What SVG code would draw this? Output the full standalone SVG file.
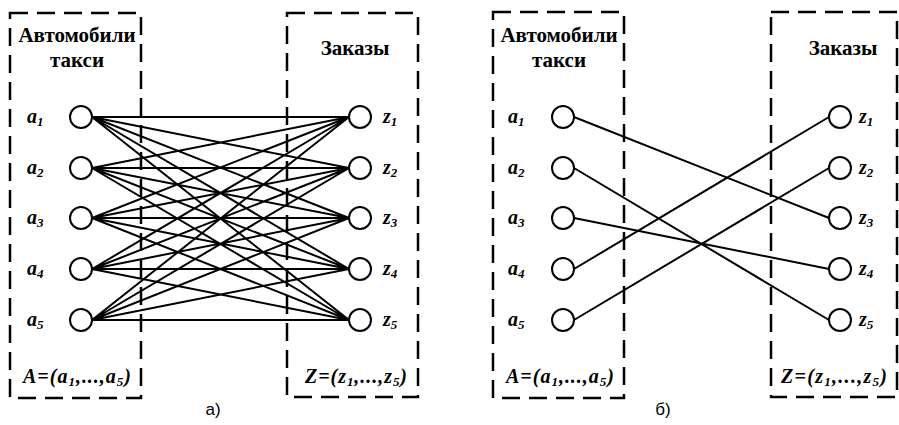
<svg xmlns="http://www.w3.org/2000/svg" width="899" height="425" viewBox="0 0 899 425">
<style>
.box{fill:none;stroke:#000;stroke-width:2.5;stroke-dasharray:18 9}
.nd{fill:#fff;stroke:#000;stroke-width:2}
.ln{stroke:#000;stroke-width:2;fill:none}
.t{font-family:'Liberation Serif','Times New Roman',serif;font-weight:bold;font-size:21px;fill:#000}
.lb{font-family:'Liberation Serif','Times New Roman',serif;font-weight:bold;font-style:italic;font-size:20px;fill:#000}
.sb{font-size:13px}
.cap{font-family:'Liberation Sans',Arial,sans-serif;font-size:17px;fill:#000}
</style>
<rect width="899" height="425" fill="#fff"/>
<g id="panel-a">
<g id="boxA1"><rect class="box" x="10" y="13" width="131" height="385"/>
<text class="t" x="77" y="42" text-anchor="middle">Автомобили</text>
<text class="t" x="77" y="67" text-anchor="middle">такси</text>
<text class="lb" x="23" y="383" textLength="108" lengthAdjust="spacing">A=(a<tspan class="sb" dy="3">1</tspan><tspan dy="-3">,...,a</tspan><tspan class="sb" dy="3">5</tspan><tspan dy="-3">)</tspan></text></g>
<g id="boxZ1"><rect class="box" x="287" y="13" width="131" height="384"/>
<text class="t" x="355" y="55" text-anchor="middle">Заказы</text>
<text class="lb" x="305" y="383" textLength="102" lengthAdjust="spacing">Z=(z<tspan class="sb" dy="3">1</tspan><tspan dy="-3">,...,z</tspan><tspan class="sb" dy="3">5</tspan><tspan dy="-3">)</tspan></text></g>
<g id="conn-a">
<path class="ln" d="M92 117L349 117M92 117L349 168M92 117L349 218M92 117L349 269M92 117L349 320
M92 168L349 117M92 168L349 168M92 168L349 218M92 168L349 269M92 168L349 320
M92 218L349 117M92 218L349 168M92 218L349 218M92 218L349 269M92 218L349 320
M92 269L349 117M92 269L349 168M92 269L349 218M92 269L349 269M92 269L349 320
M92 320L349 117M92 320L349 168M92 320L349 218M92 320L349 269M92 320L349 320"/>
</g>
<g id="a1-1"><circle class="nd" cx="81" cy="117" r="11"/><text class="lb" x="27" y="123">a<tspan class="sb" dy="3">1</tspan></text></g>
<g id="a2-1"><circle class="nd" cx="81" cy="168" r="11"/><text class="lb" x="27" y="174">a<tspan class="sb" dy="3">2</tspan></text></g>
<g id="a3-1"><circle class="nd" cx="81" cy="218" r="11"/><text class="lb" x="27" y="224">a<tspan class="sb" dy="3">3</tspan></text></g>
<g id="a4-1"><circle class="nd" cx="81" cy="269" r="11"/><text class="lb" x="27" y="275">a<tspan class="sb" dy="3">4</tspan></text></g>
<g id="a5-1"><circle class="nd" cx="81" cy="320" r="11"/><text class="lb" x="27" y="326">a<tspan class="sb" dy="3">5</tspan></text></g>
<g id="z1-1"><circle class="nd" cx="360" cy="117" r="11"/><text class="lb" x="383" y="123">z<tspan class="sb" dy="3">1</tspan></text></g>
<g id="z2-1"><circle class="nd" cx="360" cy="168" r="11"/><text class="lb" x="383" y="174">z<tspan class="sb" dy="3">2</tspan></text></g>
<g id="z3-1"><circle class="nd" cx="360" cy="218" r="11"/><text class="lb" x="383" y="224">z<tspan class="sb" dy="3">3</tspan></text></g>
<g id="z4-1"><circle class="nd" cx="360" cy="269" r="11"/><text class="lb" x="383" y="275">z<tspan class="sb" dy="3">4</tspan></text></g>
<g id="z5-1"><circle class="nd" cx="360" cy="320" r="11"/><text class="lb" x="383" y="326">z<tspan class="sb" dy="3">5</tspan></text></g>
<text class="cap" x="213" y="415" text-anchor="middle">а)</text>
</g>
<g id="panel-b">
<g id="boxA2"><rect class="box" x="493" y="12" width="131" height="386"/>
<text class="t" x="559" y="42" text-anchor="middle">Автомобили</text>
<text class="t" x="559" y="67" text-anchor="middle">такси</text>
<text class="lb" x="506" y="383" textLength="108" lengthAdjust="spacing">A=(a<tspan class="sb" dy="3">1</tspan><tspan dy="-3">,...,a</tspan><tspan class="sb" dy="3">5</tspan><tspan dy="-3">)</tspan></text></g>
<g id="boxZ2"><rect class="box" x="771" y="12" width="126" height="385"/>
<text class="t" x="843" y="55" text-anchor="middle">Заказы</text>
<text class="lb" x="781" y="383" textLength="106" lengthAdjust="spacing">Z=(z<tspan class="sb" dy="3">1</tspan><tspan dy="-3">,...,z</tspan><tspan class="sb" dy="3">5</tspan><tspan dy="-3">)</tspan></text></g>
<g id="conn-b">
<path class="ln" d="M574 117L829 218M574 168L829 320M574 218L829 269M574 269L829 117M574 320L829 168"/>
</g>
<g id="a1-2"><circle class="nd" cx="563" cy="117" r="11"/><text class="lb" x="508" y="123">a<tspan class="sb" dy="3">1</tspan></text></g>
<g id="a2-2"><circle class="nd" cx="563" cy="168" r="11"/><text class="lb" x="508" y="174">a<tspan class="sb" dy="3">2</tspan></text></g>
<g id="a3-2"><circle class="nd" cx="563" cy="218" r="11"/><text class="lb" x="508" y="224">a<tspan class="sb" dy="3">3</tspan></text></g>
<g id="a4-2"><circle class="nd" cx="563" cy="269" r="11"/><text class="lb" x="508" y="275">a<tspan class="sb" dy="3">4</tspan></text></g>
<g id="a5-2"><circle class="nd" cx="563" cy="320" r="11"/><text class="lb" x="508" y="326">a<tspan class="sb" dy="3">5</tspan></text></g>
<g id="z1-2"><circle class="nd" cx="840" cy="117" r="11"/><text class="lb" x="859" y="123">z<tspan class="sb" dy="3">1</tspan></text></g>
<g id="z2-2"><circle class="nd" cx="840" cy="168" r="11"/><text class="lb" x="859" y="174">z<tspan class="sb" dy="3">2</tspan></text></g>
<g id="z3-2"><circle class="nd" cx="840" cy="218" r="11"/><text class="lb" x="859" y="224">z<tspan class="sb" dy="3">3</tspan></text></g>
<g id="z4-2"><circle class="nd" cx="840" cy="269" r="11"/><text class="lb" x="859" y="275">z<tspan class="sb" dy="3">4</tspan></text></g>
<g id="z5-2"><circle class="nd" cx="840" cy="320" r="11"/><text class="lb" x="859" y="326">z<tspan class="sb" dy="3">5</tspan></text></g>
<text class="cap" x="663" y="415" text-anchor="middle">б)</text>
</g>
</svg>
